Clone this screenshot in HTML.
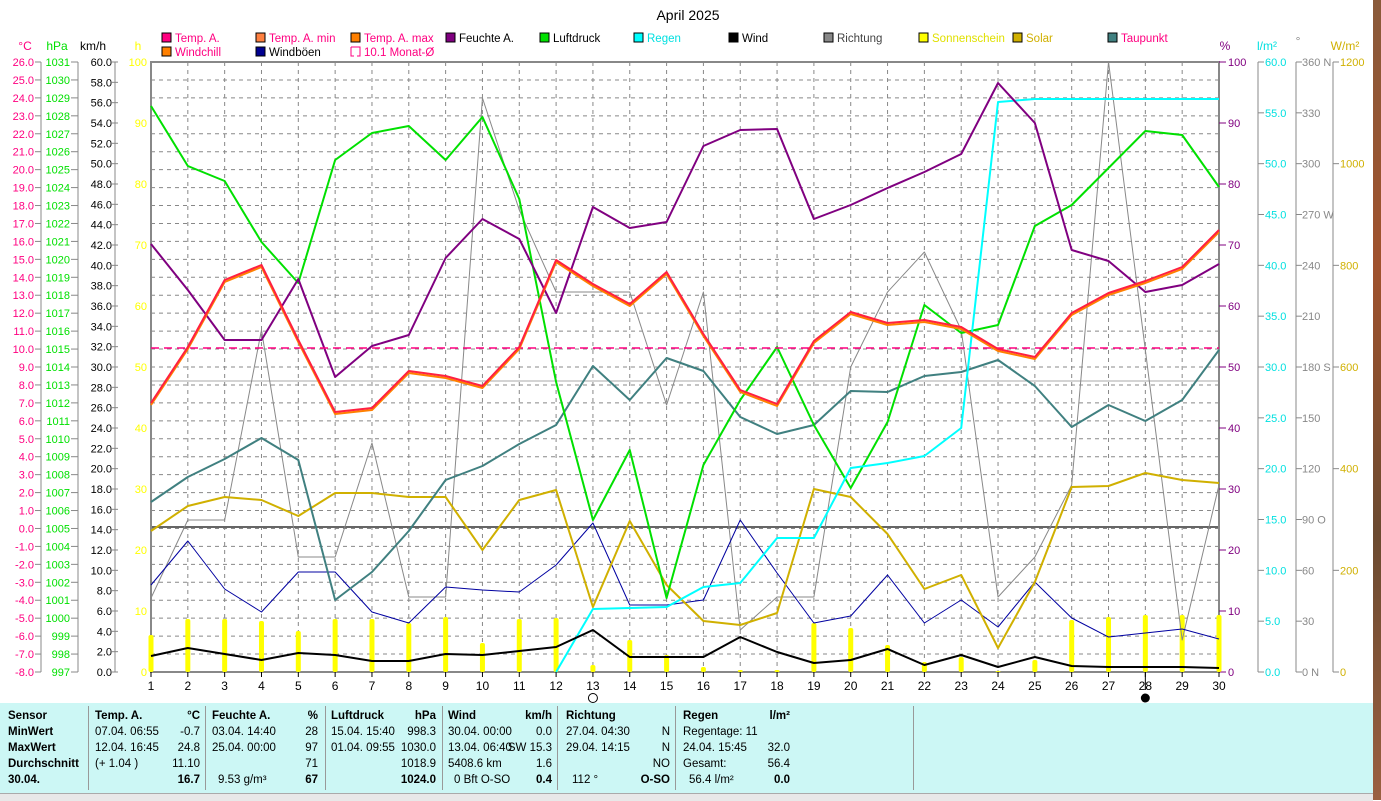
<!DOCTYPE html>
<html><head><meta charset="utf-8"><style>
body{margin:0;width:1381px;height:800px;overflow:hidden;background:#fff;font-family:"Liberation Sans",sans-serif}
svg{position:absolute;left:0;top:0}
#tbl{position:absolute;left:0;top:703px;width:1373px;height:90px;background:#ccf7f5;font-size:11.5px}
#tbl div{position:absolute;white-space:nowrap}
.b{font-weight:bold}
</style></head><body>
<svg id="s" width="1381" height="800" font-family="Liberation Sans, sans-serif"></svg>
<div id="tbl"></div>
<div style="position:absolute;left:1373px;top:0;width:8px;height:800px;background:linear-gradient(#8a5a3a,#a0522d,#6b4a30,#9a6040)"></div>
<div style="position:absolute;left:0;top:793px;width:1373px;height:7px;background:#e8e8e8;border-top:1px solid #aaa"></div>
<script>
const s=document.getElementById('s');let h='';
const X=d=>151+(d-1)*(1068/29);
const T=(x,y,t,c,a,sz,w)=>h+=`<text x="${x}" y="${y}" fill="${c}" font-size="${sz||12}" text-anchor="${a||'start'}" ${w?'font-weight="bold"':''}>${t}</text>`;
const L=(x1,y1,x2,y2,c,w,da)=>h+=`<line x1="${x1}" y1="${y1}" x2="${x2}" y2="${y2}" stroke="${c}" stroke-width="${w||1}" ${da?`stroke-dasharray="${da}"`:''}/>`;
const P=(arr,c,w,start)=>{start=start||1;h+=`<polyline fill="none" stroke="${c}" stroke-width="${w}" stroke-linejoin="round" points="${arr.map((v,i)=>X(i+start)+','+v).join(' ')}"/>`};
T(688,20,'April 2025','#000','middle',14);
for(let i=0;i<=34;i++){let y=62+i*610/34;L(151,y,1219,y,'#888',1,'4,4');}
for(let d=2;d<=29;d++)L(X(d),62,X(d),672,'#888',1,'4,4');
L(151,527,1219,527,'#666',2);L(151,381,1219,381,'#aaa',1);
h+=`<rect x="151" y="62" width="1068" height="610" fill="none" stroke="#888" stroke-width="2"/>`;
T(25,50,'°C','#ff0080','middle');T(57,50,'hPa','#00e000','middle');T(93,50,'km/h','#000','middle');T(138,50,'h','#ffff00','middle');
for(let i=0;i<=34;i++){let y=62+i*610/34;
T(34,y+4,(26-i).toFixed(1),'#ff0080','end',11);T(70,y+4,1031-i,'#00e000','end',11);
L(35,y,41,y,'#888');L(71,y,78,y,'#888');}
for(let i=0;i<=30;i++){let y=62+i*610/30;T(112,y+4,(60-2*i).toFixed(1),'#000','end',11);L(112,y,118,y,'#888');}
for(let i=0;i<=10;i++){let y=62+i*61;T(147,y+4,100-10*i,'#ffff00','end',11);}
L(41,62,41,672,'#888');L(78,62,78,672,'#888');L(115,62,115,672,'#888');
T(1225,50,'%','#800080','middle');T(1267,50,'l/m²','#00e0e0','middle');T(1298,45,'°','#888','middle');T(1345,50,'W/m²','#d0b000','middle');
for(let i=0;i<=10;i++){let y=62+i*61;L(1219,y,1226,y,'#800080');T(1228,y+4,100-10*i,'#800080','start',11);}
for(let i=0;i<=12;i++){let y=62+i*610/12;L(1258,y,1264,y,'#888');T(1265,y+4,(60-5*i).toFixed(1),'#00e0e0','start',11);
let dg=360-30*i,lab={360:' N',270:' W',180:' S',90:' O',0:' N'}[dg]||'';L(1296,y,1302,y,'#888');T(1302,y+4,dg+lab,'#888','start',11);}
for(let i=0;i<=6;i++){let y=62+i*610/6;L(1333,y,1339,y,'#888');T(1340,y+4,1200-200*i,'#d0b000','start',11);}
L(1258,62,1258,672,'#888');L(1296,62,1296,672,'#888');L(1333,62,1333,672,'#888');
for(let d=1;d<=30;d++){T(X(d),690,d,'#000','middle',12);L(X(d),672,X(d),677,'#000');}
h+=`<circle cx="${X(13)}" cy="698" r="4.5" fill="none" stroke="#000"/><circle cx="${X(28)}" cy="698" r="4.5" fill="#000"/>`;
L(X(28),672,X(28),690,'#000');
const sun=[635,619,619,621,631,619,619,623,617,643,619,618,665,640,655,667,670,670,623,628,645,662,657,671,660,620,617,615,615,615];
sun.forEach((v,i)=>h+=`<rect x="${X(i+1)-2.5}" y="${v}" width="5" height="${672-v}" rx="2" fill="#ffff00"/>`);
P([598,520,520,330,557,557,443,597,597,98,210,292,292,292,405,292,630,597,597,367,292,252,330,597,557,485,62,350,640,485],'#888',1);
P([585,541,589,612,572,572,612,623,587,590,592,565,523,605,605,600,520,573,623,616,575,623,600,627,582,618,637,633,629,639],'#0000a0',1);
P([531,506,497,500,516,493,493,497,497,550,500,490,607,521,585,621,625,613,489,497,534,589,575,648,582,487,486,473,480,483],'#d0b000',2);
P([502,477,459,438,460,600,572,531,480,466,444,425,366,400,358,371,417,434,425,391,392,376,372,360,386,427,405,421,400,350],'#408080',2);
P([106,166,181,242,283,160,133,126,160,117,199,382,520,450,598,465,400,347,425,488,422,305,333,325,226,205,168,131,135,187],'#00e000',2);
P([672,609,608,607,587,583,538,538,468,463,456,428,102,99,99,99,99,99,99],'#00ffff',2,12);
P([244,290,340,340,279,377,346,335,258,219,239,313,207,228,222,146,130,129,219,205,188,172,154,83,123,250,261,292,285,264],'#800080',2);
L(151,348,1219,348,'#ff0080',1.5,'8,5');
const tmp=[403,347,280,265,340,412,408,371,376,386,347,260,284,304,272,334,390,404,341,312,323,320,327,349,357,313,293,281,267,230];
P(tmp.map(v=>v+2),'#ff8000',2);P(tmp,'#ff2040',2);
P([656,648,654,660,653,655,661,661,654,655,651,647,630,657,657,657,637,652,663,660,649,665,655,667,657,666,667,667,667,668],'#000',2);
const lg=[[163,38,'#ff0080','Temp. A.','#ff0080'],[257,38,'#ff8040','Temp. A. min','#ff0080'],[352,38,'#ff8000','Temp. A. max','#ff0080'],[447,38,'#800080','Feuchte A.','#000'],[541,38,'#00e000','Luftdruck','#000'],[635,38,'#00ffff','Regen','#00e0e0'],[730,38,'#000','Wind','#000'],[825,38,'#888','Richtung','#444'],[920,38,'#ffff00','Sonnenschein','#e0e000'],[1014,38,'#d0b000','Solar','#d0b000'],[1109,38,'#408080','Taupunkt','#ff0080'],[163,52,'#ff8000','Windchill','#ff0080'],[257,52,'#000090','Windböen','#000']];
lg.forEach(a=>{h+=`<rect x="${a[0]-1}" y="${a[1]-5}" width="9" height="9" fill="${a[2]}" stroke="#000"/>`;T(a[0]+12,a[1]+4,a[3],a[4],'start',11.5);});
h+=`<path d="M351 47 h9 v9 h-3 M351 47 v9 h3" fill="none" stroke="#ff0080"/>`;T(364,56,'10.1 Monat-Ø','#ff0080','start',11.5);
s.innerHTML=h;
const tb=document.getElementById('tbl');let t='';
const C=(x,y,txt,cls,al)=>t+=`<div class="${cls||''}" style="${al?'right:'+(1373-x)+'px':'left:'+x+'px'};top:${y}px">${txt}</div>`;
[88,205,325,442,557,675,913].forEach(x=>t+=`<div style="left:${x}px;top:3px;width:1px;height:84px;background:#999"></div>`);
const ry=[7,23,39,55,71];
['Sensor','MinWert','MaxWert','Durchschnitt','30.04.'].forEach((v,i)=>C(8,ry[i],v,'b'));
const cols=[[95,200,'Temp. A.','°C',['07.04.  06:55','12.04.  16:45','  (+ 1.04 )',''],['-0.7','24.8','11.10','<b>16.7</b>']],
[212,318,'Feuchte A.','%',['03.04.  14:40','25.04.  00:00','','9.53 g/m³'],['28','97','71','<b>67</b>']],
[331,436,'Luftdruck','hPa',['15.04.  15:40','01.04.  09:55','',''],['998.3','1030.0','1018.9','<b>1024.0</b>']],
[448,552,'Wind','km/h',['30.04.  00:00','13.04.  06:40','5408.6 km','0 Bft O-SO'],['0.0','SW 15.3','1.6','<b>0.4</b>']],
[566,670,'Richtung','',['27.04.  04:30','29.04.  14:15','','112 °'],['N','N','NO','<b>O-SO</b>']],
[683,790,'Regen','l/m²',['Regentage: 11','24.04.  15:45','Gesamt:',' 56.4 l/m²'],['','32.0','56.4','<b>0.0</b>']]];
cols.forEach(c=>{C(c[0],ry[0],c[2],'b');C(c[1],ry[0],c[3],'b',1);c[4].forEach((v,i)=>C(c[0]+(i==3?6:0),ry[i+1],v));c[5].forEach((v,i)=>C(c[1],ry[i+1],v,'',1));});
tb.innerHTML=t;
</script>
</body></html>
